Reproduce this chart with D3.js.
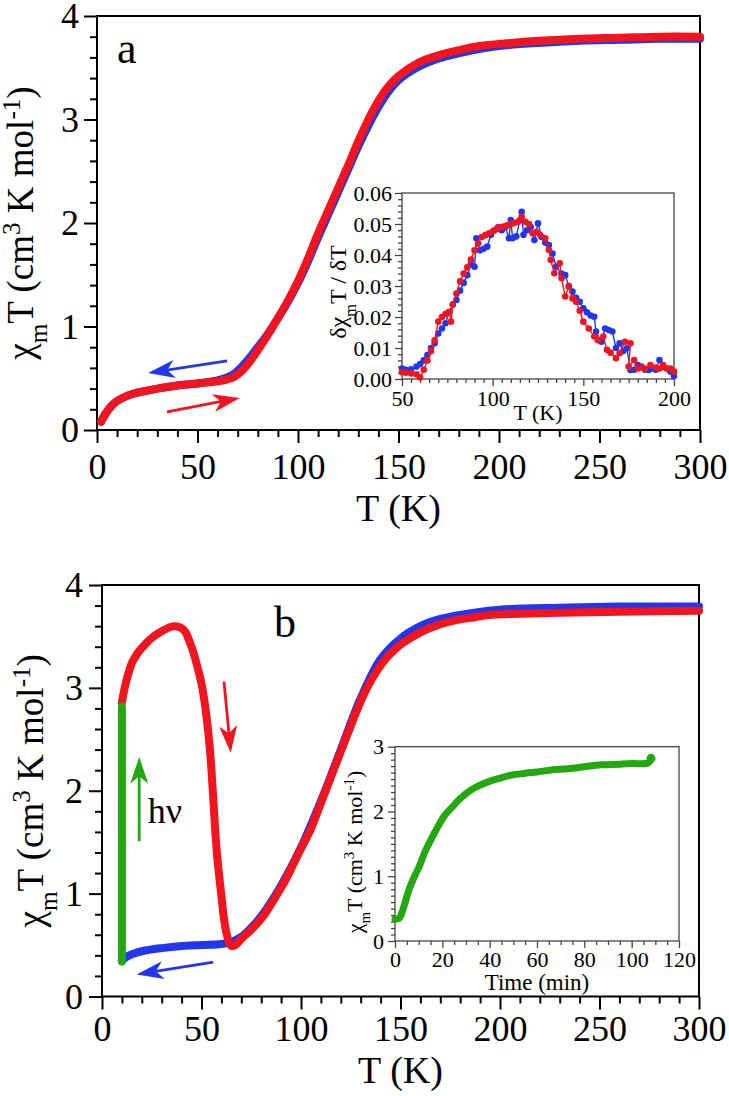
<!DOCTYPE html>
<meta charset="utf-8">
<style>
body { margin: 0; background: #fff; }
svg text { font-family: "Liberation Serif", "DejaVu Serif", "Noto Serif", Tinos, serif; fill: #000; }
.curve { fill: none; stroke-linecap: round; stroke-linejoin: round; }
</style>
<svg width="729" height="1096"></svg>
<script src="https://d3js.org/d3.v7.min.js"></script>
<script>

// ---------- data ----------
// (a) chiT vs T, cooling (blue) and heating (red)
var aCool = [[2,0.08],[4,0.15],[7,0.23],[10,0.28],[15,0.33],[20,0.36],[30,0.40],[40,0.43],[50,0.45],[60,0.48],[65,0.51],[68,0.54],[72,0.61],[76,0.70],[80,0.80],[85,0.93],[90,1.08],[95,1.24],[100,1.42],[105,1.63],[110,1.86],[115,2.08],[120,2.30],[125,2.52],[130,2.74],[135,2.94],[140,3.12],[145,3.27],[150,3.38],[160,3.51],[170,3.59],[180,3.64],[190,3.68],[200,3.71],[220,3.74],[240,3.76],[260,3.77],[280,3.78],[300,3.78]];
var aHeat = [[2,0.08],[4,0.15],[7,0.23],[10,0.28],[15,0.33],[20,0.36],[30,0.40],[40,0.43],[50,0.45],[60,0.47],[65,0.49],[68,0.51],[72,0.57],[76,0.66],[80,0.77],[85,0.92],[90,1.08],[95,1.25],[100,1.44],[105,1.66],[110,1.90],[115,2.12],[120,2.34],[125,2.56],[130,2.79],[135,3.00],[140,3.18],[145,3.32],[150,3.42],[160,3.55],[170,3.62],[180,3.67],[190,3.71],[200,3.73],[220,3.76],[240,3.78],[260,3.79],[280,3.80],[300,3.80]];

// (a) inset: d(chiT)/dT
var dCool = [[50,.0034],[52,.0030],[55,.0031],[58,.0040],[60,.0048],[62,.0060],[64,.0077],[66,.0100],[68,.0115],[70,.0147],[72,.0163],[74,.0180],[76,.0215],[78,.0240],[80,.0255],[82,.0285],[84,.0310],[86,.0335],[88,.0370],[90,.0362],[91,.0454],[93,.0415],[95,.0420],[97,.0427],[99,.0465],[101,.0480],[103,.0489],[105,.0480],[107,.0490],[109,.0454],[110,.0513],[111,.0454],[113,.0460],[115,.0512],[116,.0539],[117,.0465],[119,.0480],[121,.0490],[123,.0448],[125,.0502],[127,.0458],[129,.0440],[131,.0432],[133,.0405],[135,.0362],[138,.0340],[140,.0335],[142,.0300],[144,.0282],[146,.0262],[148,.0249],[150,.0228],[152,.0215],[154,.0205],[156,.0201],[157,.0153],[160,.0120],[162,.0163],[164,.0158],[166,.0153],[168,.0100],[170,.0115],[172,.0090],[174,.0099],[176,.0029],[178,.0030],[180,.0045],[182,.0040],[184,.0030],[186,.0029],[188,.0034],[190,.0030],[192,.0061],[194,.0040],[196,.0034],[198,.0024],[200,.0010]];
var dHeat = [[50,.0022],[52,.0020],[55,.0018],[58,.0015],[60,.0005],[62,.0030],[64,.0060],[66,.0090],[68,.0125],[70,.0185],[72,.0200],[74,.0210],[76,.0217],[77,.0185],[78,.0240],[80,.0276],[82,.0315],[84,.0340],[86,.0360],[88,.0385],[90,.0415],[92,.0437],[94,.0458],[96,.0464],[98,.0470],[100,.0476],[102,.0483],[104,.0489],[106,.0492],[108,.0496],[110,.0500],[112,.0503],[114,.0507],[116,.0523],[118,.0507],[120,.0500],[122,.0470],[124,.0474],[126,.0466],[129,.0454],[131,.0416],[132,.0384],[134,.0341],[137,.0373],[138,.0325],[140,.0266],[142,.0298],[144,.0260],[146,.0249],[148,.0220],[150,.0185],[153,.0163],[156,.0137],[158,.0125],[161,.0137],[163,.0094],[165,.0085],[168,.0067],[170,.0083],[173,.0120],[176,.0115],[175,.0040],[178,.0061],[180,.0034],[182,.0037],[184,.0034],[187,.0045],[190,.0037],[192,.0034],[194,.0045],[196,.0034],[198,.0034],[200,.0024]];

// (b) chiT vs T after fast cooling (blue), irradiation at 10 K (green), heating (red)
var bCool = [[10,0.35],[12,0.38],[15,0.41],[20,0.44],[30,0.47],[40,0.49],[50,0.50],[60,0.51],[65,0.53],[70,0.58],[75,0.67],[80,0.78],[90,1.08],[100,1.45],[110,1.90],[120,2.40],[130,2.90],[140,3.28],[150,3.48],[160,3.60],[170,3.67],[180,3.71],[200,3.76],[230,3.78],[260,3.79],[300,3.79]];
var bHeat = [[10,2.86],[12,3.05],[15,3.24],[18,3.34],[22,3.43],[26,3.50],[30,3.55],[34,3.59],[37,3.60],[40,3.58],[42,3.54],[44,3.45],[46,3.34],[48,3.20],[50,3.04],[52,2.80],[54,2.45],[55,2.20],[56,1.90],[57.5,1.45],[59,1.15],[60,0.98],[61,0.80],[62.5,0.62],[64,0.52],[65,0.49],[67,0.50],[70,0.56],[75,0.65],[81,0.78],[86,0.93],[91,1.09],[95,1.24],[99,1.40],[105,1.63],[110,1.88],[115,2.13],[120,2.38],[126,2.68],[130,2.87],[134,3.03],[138,3.16],[142,3.27],[146,3.35],[150,3.42],[160,3.54],[170,3.62],[176,3.65],[185,3.68],[196,3.71],[210,3.72],[230,3.73],[260,3.74],[300,3.75]];

// (b) inset: chiT vs irradiation time (min) at 10 K
var irrTemp = 10;
var irrTime = [0, 1, 2, 3, 4, 6, 8.5, 10, 12.7, 15, 17, 21, 25, 27, 32, 35, 41, 45, 49, 55, 60, 66, 73, 80, 87, 95, 100, 107, 108.2];
var irrChiT = [0.34, 0.34, 0.36, 0.45, 0.56, 0.80, 1.02, 1.13, 1.38, 1.55, 1.69, 1.94, 2.10, 2.18, 2.33, 2.39, 2.48, 2.52, 2.56, 2.59, 2.61, 2.64, 2.66, 2.69, 2.72, 2.73, 2.74, 2.75, 2.82];

// ticks
var tempTicks = [0, 50, 100, 150, 200, 250, 300];
var chiTicks = [0, 1, 2, 3, 4];
var insetTempTicks = [50, 100, 150, 200];
var derivTicks = [0, 0.01, 0.02, 0.03, 0.04, 0.05, 0.06];
var timeTicks = [0, 20, 40, 60, 80, 100, 120];
var insetChiTicks = [0, 1, 2, 3];

var RED = "#f2141e", BLUE = "#2236ec", GREEN = "#24a812";

var svg = d3.select("svg");
svg.append("rect").attr("width", 729).attr("height", 1096).attr("fill", "#fff");

function minors(lo, hi, step, every) {
  return d3.range(0, Math.round((hi - lo) / step) + 1)
    .filter(function(i) { return i % every; })
    .map(function(i) { return lo + i * step; });
}

function axes(g, x, y, o) {
  var x0 = x.range()[0], x1 = x.range()[1], y0 = y.range()[0], y1 = y.range()[1];
  g.append("rect")
      .attr("x", x0).attr("y", y1).attr("width", x1 - x0).attr("height", y0 - y1)
      .attr("fill", "#fff").attr("stroke", "none");
  g.append("g").attr("transform", "translate(0," + y0 + ")")
      .call(d3.axisBottom(x).tickValues(o.xMinor).tickSize(o.minor).tickSizeOuter(0).tickFormat(""));
  g.append("g").attr("transform", "translate(" + x0 + ",0)")
      .call(d3.axisLeft(y).tickValues(o.yMinor).tickSize(o.minor).tickSizeOuter(0).tickFormat(""));
  g.append("g").attr("transform", "translate(0," + y0 + ")")
      .call(d3.axisBottom(x).tickValues(o.xMajor).tickSize(o.major).tickSizeOuter(0)
        .tickPadding(o.xPad).tickFormat(o.xFmt));
  g.append("g").attr("transform", "translate(" + x0 + ",0)")
      .call(d3.axisLeft(y).tickValues(o.yMajor).tickSize(o.major).tickSizeOuter(0)
        .tickPadding(o.yPad).tickFormat(o.yFmt));
  g.selectAll(".domain").remove();
  g.selectAll("g").attr("font-family", null).attr("font-size", null);
  g.selectAll(".tick line").attr("stroke", o.color).attr("stroke-width", o.width);
  g.selectAll(".tick text").attr("font-size", o.font).attr("fill", "#000");
  g.append("rect")
      .attr("x", x0).attr("y", y1).attr("width", x1 - x0).attr("height", y0 - y1)
      .attr("fill", "none").attr("stroke", o.color).attr("stroke-width", o.width);
}

function band(g, x, y, pts, color, w) {
  g.append("path").datum(pts)
      .attr("class", "curve")
      .attr("stroke", color).attr("stroke-width", w)
      .attr("d", d3.line().curve(d3.curveCatmullRom)
        .x(function(d) { return x(d[0]); })
        .y(function(d) { return y(d[1]); }));
}

function dots(g, x, y, pts, color) {
  g.append("path").datum(pts)
      .attr("fill", "none").attr("stroke", color).attr("stroke-width", 1.4)
      .attr("d", d3.line().x(function(d) { return x(d[0]); }).y(function(d) { return y(d[1]); }));
  g.selectAll(null).data(pts).enter().append("circle")
      .attr("cx", function(d) { return x(d[0]); })
      .attr("cy", function(d) { return y(d[1]); })
      .attr("r", 3.3).attr("fill", color);
}

function arrow(g, x, y, from, to, color) {
  var p = [x(from[0]), y(from[1])], q = [x(to[0]), y(to[1])];
  var dx = q[0] - p[0], dy = q[1] - p[1], L = Math.sqrt(dx * dx + dy * dy);
  var ux = dx / L, uy = dy / L, nx = -uy, ny = ux, len = 27, half = 9;
  g.append("line")
      .attr("x1", p[0]).attr("y1", p[1])
      .attr("x2", q[0] - ux * len * 0.7).attr("y2", q[1] - uy * len * 0.7)
      .attr("stroke", color).attr("stroke-width", 2.8);
  g.append("path")
      .attr("fill", color)
      .attr("d", "M" + q[0] + "," + q[1] +
        "L" + (q[0] - ux * len + nx * half) + "," + (q[1] - uy * len + ny * half) +
        "L" + (q[0] - ux * len * 0.72) + "," + (q[1] - uy * len * 0.72) +
        "L" + (q[0] - ux * len - nx * half) + "," + (q[1] - uy * len - ny * half) + "Z");
}

function chiLabel(t) {
  t.append("tspan").text("χ");
  t.append("tspan").attr("baseline-shift", "sub").attr("font-size", "68%").text("m");
  t.append("tspan").text("T (cm");
  t.append("tspan").attr("baseline-shift", "super").attr("font-size", "68%").text("3");
  t.append("tspan").text(" K mol");
  t.append("tspan").attr("baseline-shift", "super").attr("font-size", "68%").text("-1");
  t.append("tspan").text(")");
}

var intFmt = d3.format("d");
var mainOpts = function(xPad, yPad) {
  return {
    xMajor: tempTicks, xMinor: minors(0, 300, 10, 5),
    yMajor: chiTicks, yMinor: minors(0, 4, 0.2, 5),
    major: 13, minor: 7, xPad: xPad, yPad: yPad,
    xFmt: intFmt, yFmt: intFmt, font: 36, color: "#000", width: 2
  };
};

// ================= panel a =================
var xa = d3.scaleLinear().domain([0, 300]).range([97, 700]);
var ya = d3.scaleLinear().domain([0, 4]).range([430, 16]);
var ga = svg.append("g");
axes(ga, xa, ya, mainOpts(10, 5));
band(ga, xa, ya, aCool, BLUE, 8);
band(ga, xa, ya, aHeat, RED, 8);
arrow(ga, xa, ya, [64.7, 0.667], [25.4, 0.55], BLUE);
arrow(ga, xa, ya, [34.8, 0.174], [71.1, 0.31], RED);

ga.append("text").attr("x", xa(10)).attr("y", ya(3.55))
    .attr("font-size", 44).text("a");
ga.append("text").attr("x", d3.mean(xa.range())).attr("y", 521)
    .attr("text-anchor", "middle").attr("font-size", 38).text("T (K)");
ga.append("text").attr("transform", "translate(33," + d3.mean(ya.range()) + ") rotate(-90)")
    .attr("text-anchor", "middle").attr("font-size", 37).call(chiLabel);

// inset a
var xia = d3.scaleLinear().domain([50, 200]).range([402, 674]);
var yia = d3.scaleLinear().domain([0, 0.06]).range([379, 193]);
var gia = svg.append("g");
axes(gia, xia, yia, {
  xMajor: insetTempTicks, xMinor: minors(50, 200, 5, 10),
  yMajor: derivTicks, yMinor: minors(0, 0.06, 0.002, 5),
  major: 7, minor: 4, xPad: 4, yPad: 3,
  xFmt: intFmt, yFmt: d3.format(".2f"), font: 22, color: "#444", width: 1.3
});
dots(gia, xia, yia, dCool, BLUE);
dots(gia, xia, yia, dHeat, RED);
gia.append("text").attr("x", d3.mean(xia.range())).attr("y", 420)
    .attr("text-anchor", "middle").attr("font-size", 22).text("T (K)");
var dl = gia.append("text").attr("transform", "translate(346," + (d3.mean(yia.range()) + 6) + ") rotate(-90)")
    .attr("text-anchor", "middle").attr("font-size", 24);
dl.append("tspan").text("δχ");
dl.append("tspan").attr("baseline-shift", "sub").attr("font-size", "68%").text("m");
dl.append("tspan").text("T / δT");

// ================= panel b =================
var xb = d3.scaleLinear().domain([0, 300]).range([102, 699]);
var yb = d3.scaleLinear().domain([0, 4]).range([996.5, 585]);
var gb = svg.append("g");
axes(gb, xb, yb, mainOpts(6, 6));
band(gb, xb, yb, bCool, BLUE, 8);
band(gb, xb, yb, bHeat, RED, 8);
band(gb, xb, yb, irrChiT.map(function(v) { return [irrTemp, v]; }), GREEN, 8);
arrow(gb, xb, yb, [61.3, 3.06], [64.7, 2.37], RED);
arrow(gb, xb, yb, [18.7, 1.51], [18.7, 2.33], GREEN);
arrow(gb, xb, yb, [55.9, 0.335], [17.4, 0.214], BLUE);

gb.append("text").attr("x", xb(92)).attr("y", yb(3.49))
    .attr("text-anchor", "middle").attr("font-size", 44).text("b");
gb.append("text").attr("x", xb(23)).attr("y", yb(1.69))
    .attr("font-size", 36).text("hν");
gb.append("text").attr("x", d3.mean(xb.range())).attr("y", 1083)
    .attr("text-anchor", "middle").attr("font-size", 38).text("T (K)");
gb.append("text").attr("transform", "translate(43," + d3.mean(yb.range()) + ") rotate(-90)")
    .attr("text-anchor", "middle").attr("font-size", 37).call(chiLabel);

// inset b
var xib = d3.scaleLinear().domain([0, 120]).range([395, 679]);
var yib = d3.scaleLinear().domain([0, 3]).range([941, 746.7]);
var gib = svg.append("g");
axes(gib, xib, yib, {
  xMajor: timeTicks, xMinor: minors(0, 120, 5, 4),
  yMajor: insetChiTicks, yMinor: minors(0, 3, 0.1, 10),
  major: 7, minor: 4, xPad: 3, yPad: 4,
  xFmt: intFmt, yFmt: intFmt, font: 22, color: "#444", width: 1.3
});
band(gib, xib, yib, irrTime.map(function(t, i) { return [t, irrChiT[i]]; }), GREEN, 7);
gib.append("circle").attr("cx", xib(irrTime[irrTime.length - 1])).attr("cy", yib(irrChiT[irrChiT.length - 1]))
    .attr("r", 4.5).attr("fill", GREEN);
gib.append("text").attr("x", d3.mean(xib.range())).attr("y", 990)
    .attr("text-anchor", "middle").attr("font-size", 23).text("Time (min)");
gib.append("text").attr("transform", "translate(362," + 852 + ") rotate(-90)")
    .attr("text-anchor", "middle").attr("font-size", 22).call(chiLabel);

</script>
